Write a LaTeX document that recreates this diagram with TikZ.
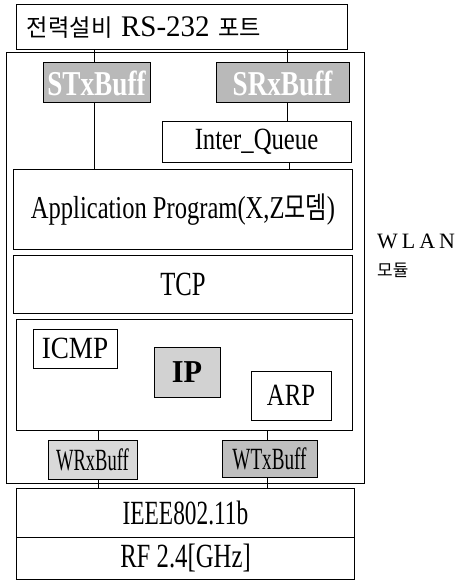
\documentclass[tikz,border=0pt]{standalone}
\usepackage{fontspec}
\usepackage{graphicx}
\setmainfont{Liberation Serif}
\newfontfamily\kr{Noto Sans CJK KR}
\newcommand{\sq}[2][0.78]{\scalebox{#1}[1]{#2}}
\newcommand{\fs}[1]{\fontsize{#1}{#1}\selectfont}
\begin{document}
\begin{tikzpicture}[x=1bp,y=-1bp,
  box/.style={draw=black,line width=1bp,fill=white,inner sep=0pt,outer sep=0pt,anchor=center},
  darkbuf/.style={box,fill=gray!55,text=white,font=\bfseries\fs{35}},
  lightbuf/.style={box,fill=gray!30,font=\fs{31}},
  midbuf/.style={box,fill=gray!50,font=\fs{31}},
  link/.style={draw=black,line width=0.8bp}]
\useasboundingbox (0,0) rectangle (461,581);
\fill[white] (0,0) rectangle (461,581);
% outer WLAN module frame
\node[box,minimum width=357bp,minimum height=430bp] (wlan) at (185.5,268) {};
% top port box
\node[box,minimum width=330bp,minimum height=45bp,text width=320bp,align=left,inner xsep=5bp] (top) at (182,27.5)
  {\hspace{5bp}\sq[0.97]{{\kr\fs{24}전력설비}\hspace{9bp}{\fs{30}RS-232}\hspace{9bp}{\kr\fs{24}포트}}};
\node[darkbuf,minimum width=107bp,minimum height=40bp] (stx) at (96.5,83) {\sq{STxBuff}};
\node[darkbuf,minimum width=133bp,minimum height=40bp] (srx) at (282.5,83) {\sq{SRxBuff}};
\node[box,minimum width=189bp,minimum height=40bp,font=\fs{31}] (iq) at (256.5,142) {\sq[0.8]{Inter\_Queue}};
\node[box,minimum width=338bp,minimum height=79bp,font=\fs{32}] (app) at (183,209.5)
  {\sq[0.77]{Application Program(X,Z{\kr\fs{30}모뎀})}};
\node[box,minimum width=338bp,minimum height=58bp,font=\fs{34}] (tcp) at (183,284) {\sq[0.73]{TCP}};
\node[box,minimum width=335bp,minimum height=111bp] (ipl) at (184.5,374.5) {};
\node[box,minimum width=84bp,minimum height=39bp,font=\fs{31}] (icmp) at (75,348.5) {\sq[0.88]{ICMP}};
\node[box,fill=gray!35,minimum width=66bp,minimum height=50bp,font=\bfseries\fs{32}] (ip) at (187,372) {\sq[0.95]{IP}};
\node[box,minimum width=80bp,minimum height=49bp,font=\fs{31}] (arp) at (291,395.5) {\sq[0.8]{ARP}};
\node[lightbuf,minimum width=89bp,minimum height=39bp] (wrx) at (92.5,459.5) {\sq[0.6]{WRxBuff}};
\node[midbuf,minimum width=95bp,minimum height=37bp] (wtx) at (269.5,458.5) {\sq[0.62]{WTxBuff}};
\node[box,minimum width=337bp,minimum height=49bp,font=\fs{34}] (ieee) at (185.5,512.5) {\sq[0.69]{IEEE802.11b}};
\node[box,minimum width=337bp,minimum height=42bp,font=\fs{34}] (rf) at (185.5,558) {\sq[0.73]{RF 2.4[GHz]}};
% side label
\node[anchor=west,inner sep=0pt,font=\fs{22}] (wl) at (377,241) {W\hspace{4bp}L\hspace{4bp}A\hspace{4bp}N};
\node[anchor=west,inner sep=0pt,font=\kr\fs{17}] (md) at (377,270) {모듈};
% connectors
\draw[link] ([xshift=-2.5bp]stx.north) -- ([xshift=-2.5bp]stx.north |- top.south);
\draw[link] ([xshift=-2.5bp]stx.south) -- ([xshift=-2.5bp]stx.south |- app.north);
\draw[link] ([xshift=4.5bp]srx.north) -- ([xshift=4.5bp]srx.north |- top.south);
\draw[link] ([xshift=4.5bp]srx.south) -- ([xshift=4.5bp]srx.south |- iq.north);
\draw[link] ([xshift=32.5bp]iq.south) -- ([xshift=32.5bp]iq.south |- app.north);
\draw[link] ([xshift=5.5bp]wrx.north) -- ([xshift=5.5bp]wrx.north |- ipl.south);
\draw[link] ([xshift=5.5bp]wrx.south) -- ([xshift=5.5bp]wrx.south |- ieee.north);
\draw[link] ([xshift=-2.5bp]wtx.north) -- ([xshift=-2.5bp]wtx.north |- ipl.south);
\draw[link] ([xshift=-2.5bp]wtx.south) -- ([xshift=-2.5bp]wtx.south |- ieee.north);
\end{tikzpicture}
\end{document}
